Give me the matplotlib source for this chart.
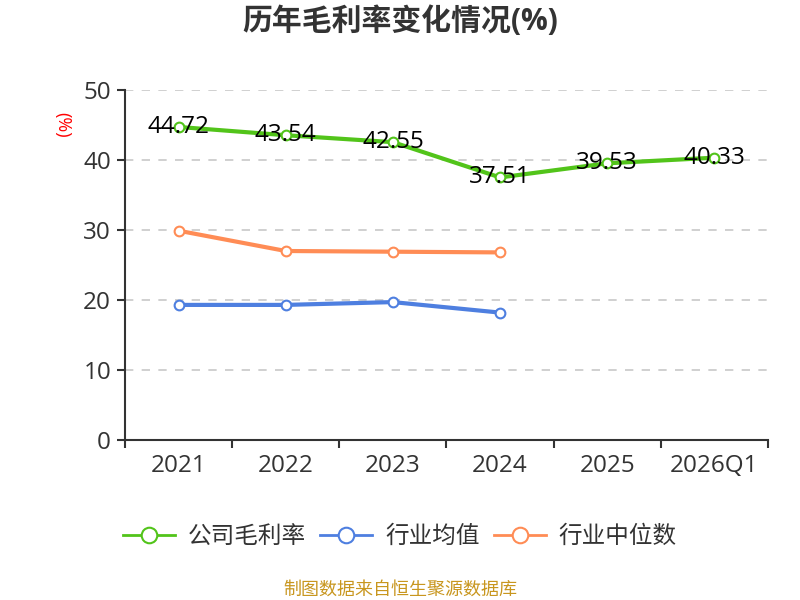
import matplotlib
matplotlib.use("Agg")
import matplotlib.pyplot as plt
from matplotlib.ticker import FixedLocator

plt.rcParams['font.family'] = ['Open Sans', 'Noto Sans CJK SC', 'DejaVu Sans']

categories = ["2021", "2022", "2023", "2024", "2025", "2026Q1"]
company = [44.72, 43.54, 42.55, 37.51, 39.53, 40.33]
industry_avg = [19.3, 19.3, 19.7, 18.2]
industry_median = [29.9, 27.0, 26.9, 26.8]
yticks = [0, 10, 20, 30, 40, 50]

c_green = "#52c41a"
c_blue = "#4e7fe0"
c_orange = "#ff8c55"

fig = plt.figure(figsize=(8, 6), dpi=100)
ax = fig.add_axes([125/800, 1-440/600, (768-125)/800, 350/600])

x = list(range(len(categories)))
mk = dict(marker='o', markersize=7, markerfacecolor='white', markeredgewidth=1.5, linewidth=3)
ax.plot(x, company, color=c_green, markeredgecolor=c_green, label="公司毛利率", zorder=3, **mk)
ax.plot(x[:len(industry_avg)], industry_avg, color=c_blue, markeredgecolor=c_blue, label="行业均值", zorder=3, **mk)
ax.plot(x[:len(industry_median)], industry_median, color=c_orange, markeredgecolor=c_orange, label="行业中位数", zorder=3, **mk)

for xi, v in zip(x, company):
    ax.text(xi, v, f"{v:.2f}", ha='center', va='center', fontsize=17.5, color='black', zorder=4)

ax.set_xlim(-0.5, len(categories) - 0.5)
ax.set_ylim(0, 50)
ax.set_yticks(yticks)
ax.set_yticklabels([str(t) for t in yticks], fontsize=17.5, color='#333333')
ax.set_xticks(x)
ax.set_xticklabels(categories, fontsize=17.5, color='#333333')
ax.xaxis.set_minor_locator(FixedLocator([i - 0.5 for i in range(len(categories) + 1)]))
ax.tick_params(axis='x', which='major', length=0, pad=10)
ax.tick_params(axis='x', which='minor', length=6, width=1.5, color='#333333')
ax.tick_params(axis='y', length=6, width=1.5, color='#333333', pad=4)

for yv in yticks[1:]:
    ax.axhline(yv, color='#c8c8c8', linestyle=(0, (5, 5)), linewidth=1.2, zorder=1)

for s in ['top', 'right']:
    ax.spines[s].set_visible(False)
ax.spines['left'].set_color('#333333')
ax.spines['left'].set_linewidth(1.5)
ax.spines['bottom'].set_color('#333333')
ax.spines['bottom'].set_linewidth(1.5)

fig.text(0.5, 1-22/600, "历年毛利率变化情况(%)", ha='center', va='center', fontsize=21.5, fontweight='bold', color='#333333')
fig.text(62/800, 1-125/600, "(%)", ha='center', va='center', fontsize=13, color='red', rotation=-90)

leg = fig.legend(loc='center', bbox_to_anchor=(0.5, 1-537/600), ncol=3, frameon=False,
                 fontsize=17, handlelength=2.2, columnspacing=0.6, handletextpad=0.55,
                 markerscale=1.6)
for t in leg.get_texts():
    t.set_color('#333333')
for h in leg.legend_handles:
    h.set_linewidth(2)

fig.text(0.5, 1-590/600, "制图数据来自恒生聚源数据库", ha='center', va='center', fontsize=13, color='#c8961e')

fig.savefig("out.png", dpi=100)
